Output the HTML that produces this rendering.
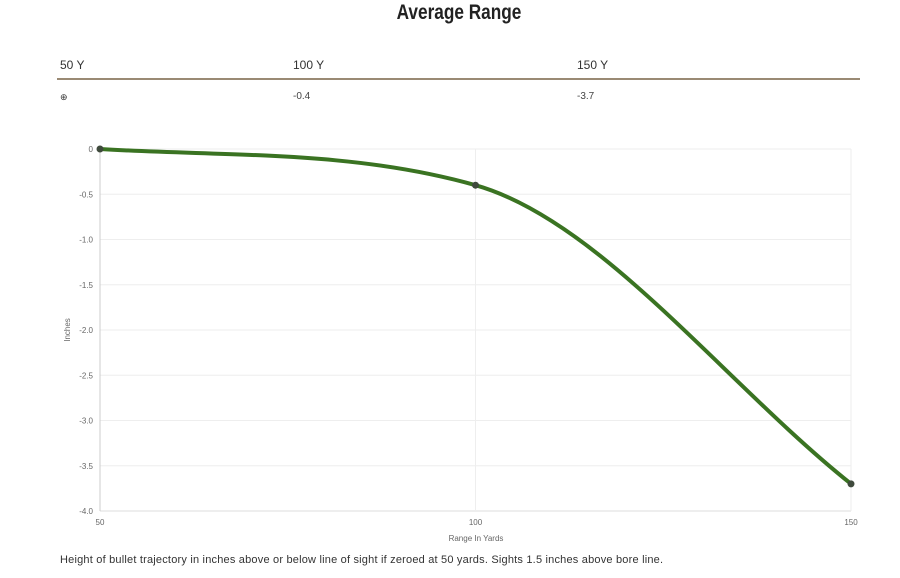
<!DOCTYPE html>
<html><head><meta charset="utf-8"><style>
body{margin:0;width:900px;height:578px;background:#fff;font-family:"Liberation Sans",sans-serif;position:relative;overflow:hidden}
.t{position:absolute;white-space:nowrap}
</style></head><body>
<div class="t" style="left:0;width:918px;text-align:center;top:1px;font-size:21px;font-weight:bold;color:#222;transform:scaleX(0.82);transform-origin:459px 0;">Average Range</div>
<div class="t" style="left:60px;top:58px;font-size:12px;color:#333">50 Y</div>
<div class="t" style="left:293px;top:58px;font-size:12px;color:#333">100 Y</div>
<div class="t" style="left:577px;top:58px;font-size:12px;color:#333">150 Y</div>
<div style="position:absolute;left:57px;top:78px;width:803px;height:2px;background:#9a8a74"></div>
<div class="t" style="left:60px;top:92px;font-size:9px;color:#333">⊕</div>
<div class="t" style="left:293px;top:91px;font-size:10px;color:#444">-0.4</div>
<div class="t" style="left:577px;top:91px;font-size:10px;color:#444">-3.7</div>
<svg id="c" width="900" height="578" style="position:absolute;left:0;top:0"></svg>
<div class="t" style="left:60px;top:554px;font-size:11px;color:#333;letter-spacing:0.2px">Height of bullet trajectory in inches above or below line of sight if zeroed at 50 yards. Sights 1.5 inches above bore line.</div>
<script>
const categories=[50,100,150];
const values=[0,-0.4,-3.7];
const yTicks=[0,-0.5,-1.0,-1.5,-2.0,-2.5,-3.0,-3.5,-4.0];
const yTickLabels=["0","-0.5","-1.0","-1.5","-2.0","-2.5","-3.0","-3.5","-4.0"];
const NS="http://www.w3.org/2000/svg";
const svg=document.getElementById('c');
const L=100,R=851,T=149,B=511;
const x=v=>L+(v-50)/100*(R-L);
const y=v=>T+(0-v)/4*(B-T);
function mk(t,a,p){const e=document.createElementNS(NS,t);for(const k in a)e.setAttribute(k,a[k]);(p||svg).appendChild(e);return e;}
yTicks.forEach((v,i)=>{
 const g=mk('line',{x1:L,x2:R,y1:y(v),y2:y(v),stroke:i===yTicks.length-1?'#ddd':'#eee','stroke-width':1});
 
 
 const t=mk('text',{x:93,y:y(v)+3,'text-anchor':'end','font-size':8,fill:'#666','font-family':'Liberation Sans'});
 t.textContent=yTickLabels[i];
 
 
});
categories.forEach(c=>{
 const g=mk('line',{x1:x(c),x2:x(c),y1:T,y2:B,stroke:c===50?'#ccc':'#eee','stroke-width':1});
 
 
 const t=mk('text',{x:x(c),y:525,'text-anchor':'middle','font-size':8,fill:'#666','font-family':'Liberation Sans'});
 t.textContent=String(c);
 
 
});
const xt=mk('text',{x:476,y:541,'text-anchor':'middle','font-size':8,fill:'#666','font-family':'Liberation Sans'});
xt.textContent='Range In Yards';


const yt=mk('text',{x:0,y:0,'text-anchor':'middle','font-size':8,fill:'#666','font-family':'Liberation Sans',transform:'translate(70,330) rotate(-90)'});
yt.textContent='Inches';


// Monotone cubic interpolation (Fritsch-Carlson, Chart.js style) in data space
const n=categories.length;
const dk=[];for(let i=0;i<n-1;i++)dk.push((values[i+1]-values[i])/(categories[i+1]-categories[i]));
const m=[];for(let i=0;i<n;i++){
 if(i===0)m.push(dk[0]);else if(i===n-1)m.push(dk[n-2]);
 else m.push((dk[i-1]*dk[i]<=0)?0:(dk[i-1]+dk[i])/2);
}
for(let i=0;i<n-1;i++){
 if(dk[i]===0){m[i]=m[i+1]=0;continue;}
 const a=m[i]/dk[i],b=m[i+1]/dk[i],s=a*a+b*b;
 if(s>9){const tau=3/Math.sqrt(s);m[i]=tau*a*dk[i];m[i+1]=tau*b*dk[i];}
}
let d=`M${x(categories[0])},${y(values[0])}`;
for(let i=0;i<n-1;i++){
 const h=(categories[i+1]-categories[i])/3;
 d+=` C${x(categories[i]+h)},${y(values[i]+m[i]*h)} ${x(categories[i+1]-h)},${y(values[i+1]-m[i+1]*h)} ${x(categories[i+1])},${y(values[i+1])}`;
}
const line=mk('path',{d:d,fill:'none',stroke:'#3a7322','stroke-width':4,'stroke-linecap':'round'});


categories.forEach((c,i)=>{
 const p=mk('circle',{cx:x(c),cy:y(values[i]),r:3.5,fill:'#3f4a3c'});
 
 
});
</script>
</body></html>
